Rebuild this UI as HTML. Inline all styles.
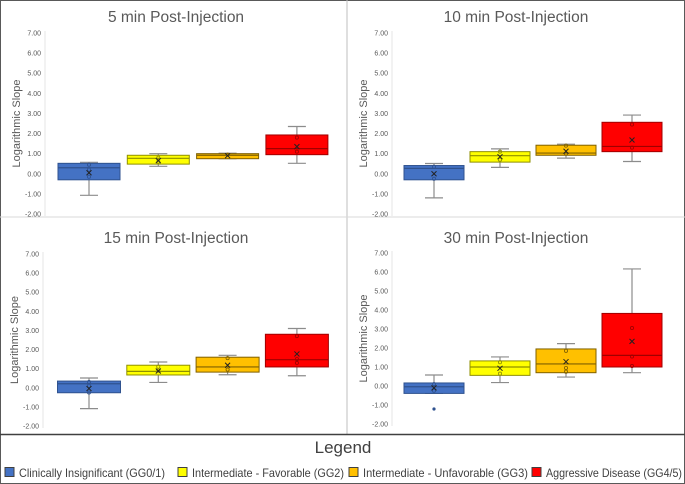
<!DOCTYPE html>
<html><head><meta charset="utf-8"><style>
html,body{margin:0;padding:0;background:#fff;}
svg{display:block;font-family:"Liberation Sans",sans-serif;}
</style></head><body>
<svg id="chart" width="685" height="484" viewBox="0 0 685 484" xmlns="http://www.w3.org/2000/svg">
<rect x="0" y="0" width="685" height="484" fill="#fff"/>
<g id="panels"></g>
<g id="frame">
<rect x="0.5" y="0.5" width="684" height="483" fill="none" stroke="#595959" stroke-width="1"/>
<line x1="347" y1="0" x2="347" y2="434" stroke="#bfbfbf" stroke-width="1"/>
<line x1="0" y1="217" x2="685" y2="217" stroke="#d9d9d9" stroke-width="1"/>
<line x1="0" y1="434.5" x2="685" y2="434.5" stroke="#404040" stroke-width="1.5"/>
</g>
<g id="legend">
<text x="343" y="453" text-anchor="middle" font-size="17" fill="#404040">Legend</text>
</g>
</svg>
<script>
var groupNames = ["Clinically Insignificant (GG0/1)", "Intermediate - Favorable (GG2)", "Intermediate - Unfavorable (GG3)", "Aggressive Disease (GG4/5)"];
var panelTitles = ["5 min Post-Injection", "10 min Post-Injection", "15 min Post-Injection", "30 min Post-Injection"];
var yTicks = [7, 6, 5, 4, 3, 2, 1, 0, -1, -2];
var mins5 = [-1.07, 0.37, 0.75, 0.52], q1s5 = [-0.3, 0.48, 0.75, 0.95], meds5 = [0.3, 0.77, 0.92, 1.25], q3s5 = [0.52, 0.92, 1.0, 1.93], maxs5 = [0.57, 1.0, 1.02, 2.35], means5 = [0.05, 0.65, 0.9, 1.35];
var mins10 = [-1.2, 0.32, 0.78, 0.61], q1s10 = [-0.3, 0.58, 0.92, 1.1], meds10 = [0.27, 0.9, 1.03, 1.36], q3s10 = [0.41, 1.1, 1.42, 2.56], maxs10 = [0.51, 1.24, 1.47, 2.92], means10 = [0.0, 0.85, 1.12, 1.68];
var mins15 = [-1.09, 0.28, 0.68, 0.63], q1s15 = [-0.26, 0.67, 0.82, 1.09], meds15 = [0.21, 0.86, 1.09, 1.47], q3s15 = [0.35, 1.18, 1.6, 2.8], maxs15 = [0.51, 1.35, 1.7, 3.1], means15 = [-0.04, 0.88, 1.18, 1.77];
var mins30 = [-0.39, 0.18, 0.47, 0.7], q1s30 = [-0.39, 0.56, 0.7, 1.0], meds30 = [-0.04, 1.0, 1.16, 1.61], q3s30 = [0.16, 1.32, 1.95, 3.82], maxs30 = [0.58, 1.53, 2.23, 6.16], means30 = [-0.1, 0.93, 1.28, 2.35];
var outliers30 = [-1.21, null, null, null];
var pts5 = [[0.45, -0.15, 0.2], [0.8, 0.6], [0.95], [1.8, 1.1]];
var pts10 = [[0.35, -0.25], [1.1, 0.7], [1.4, 1.0], [2.45, 1.3]];
var pts15 = [[0.3, 0.1, -0.25], [1.1, 0.9], [1.55, 0.95], [2.7, 1.3, 1.5]];
var pts30 = [[0.1, -0.25], [1.25, 0.65], [1.85, 0.95, 0.75], [3.05, 1.55, 1.05]];

var panelData = [
 {mins: mins5, q1: q1s5, med: meds5, q3: q3s5, max: maxs5, mean: means5, pts: pts5, out: [null,null,null,null]},
 {mins: mins10, q1: q1s10, med: meds10, q3: q3s10, max: maxs10, mean: means10, pts: pts10, out: [null,null,null,null]},
 {mins: mins15, q1: q1s15, med: meds15, q3: q3s15, max: maxs15, mean: means15, pts: pts15, out: [null,null,null,null]},
 {mins: mins30, q1: q1s30, med: meds30, q3: q3s30, max: maxs30, mean: means30, pts: pts30, out: outliers30}
];
var layouts = [
 {ax: 45, yTop: 33, yBot: 214, x0: 89, step: 69.3, bw: 62, tx: 176, ty: 22},
 {ax: 392, yTop: 33, yBot: 214, x0: 434, step: 66, bw: 60, tx: 516, ty: 22},
 {ax: 43, yTop: 254, yBot: 426, x0: 89, step: 69.3, bw: 63, tx: 176, ty: 243},
 {ax: 392, yTop: 253, yBot: 424, x0: 434, step: 66, bw: 60, tx: 516, ty: 243}
];
var fills = ["#4472C4", "#FFFF00", "#FFC000", "#FF0000"];
var strokes = ["#2F528F", "#8F8F00", "#7F6000", "#A00000"];
var NS = "http://www.w3.org/2000/svg";
function mk(tag, attrs, parent) {
  var e = document.createElementNS(NS, tag);
  for (var k in attrs) e.setAttribute(k, attrs[k]);
  parent.appendChild(e);
  return e;
}
var root = document.getElementById('panels');
panelData.forEach(function (d, p) {
  var L = layouts[p];
  var yv = function (v) { return L.yTop + (7 - v) * (L.yBot - L.yTop) / 9; };
  var xc = function (i) { return L.x0 + i * L.step; };
  var g = mk('g', {}, root);
  
  
  var t = mk('text', {x: L.tx, y: L.ty, 'text-anchor': 'middle', 'font-size': 15.5, fill: '#595959'}, g);
  t.textContent = panelTitles[p];
  
  
  var yt = mk('text', {x: 0, y: 0, 'text-anchor': 'middle', 'font-size': 11, fill: '#595959', transform: 'translate(' + (L.ax - 25) + ',' + ((L.yTop + L.yBot) / 2) + ') rotate(-90)'}, g);
  yt.textContent = 'Logarithmic Slope';
  
  
  var al = mk('line', {x1: L.ax, y1: L.yTop - 2, x2: L.ax, y2: L.yBot + 2, stroke: '#e6e6e6', 'stroke-width': 1}, g);
  
  
  yTicks.forEach(function (v) {
    var tl = mk('text', {x: L.ax - 4, y: yv(v) + 2.5, 'text-anchor': 'end', 'font-size': 7, fill: '#595959'}, g);
    tl.textContent = v.toFixed(2);
    
    
  });
  for (var i = 0; i < 4; i++) {
    var cx = xc(i), hw = L.bw / 2;
    var bg = mk('g', {}, g);
    
    
    var wc = '#8c8c8c';
    mk('line', {x1: cx, y1: yv(d.max[i]), x2: cx, y2: yv(d.q3[i]), stroke: wc, 'stroke-width': 1.2}, bg);
    mk('line', {x1: cx, y1: yv(d.q1[i]), x2: cx, y2: yv(d.mins[i]), stroke: wc, 'stroke-width': 1.2}, bg);
    mk('line', {x1: cx - 9, y1: yv(d.max[i]), x2: cx + 9, y2: yv(d.max[i]), stroke: wc, 'stroke-width': 1.2}, bg);
    mk('line', {x1: cx - 9, y1: yv(d.mins[i]), x2: cx + 9, y2: yv(d.mins[i]), stroke: wc, 'stroke-width': 1.2}, bg);
    mk('rect', {x: cx - hw, y: yv(d.q3[i]), width: L.bw, height: yv(d.q1[i]) - yv(d.q3[i]), fill: fills[i], stroke: strokes[i], 'stroke-width': 1}, bg);
    mk('line', {x1: cx - hw, y1: yv(d.med[i]), x2: cx + hw, y2: yv(d.med[i]), stroke: strokes[i], 'stroke-width': 1.2}, bg);
    d.pts[i].forEach(function (v) {
      mk('circle', {cx: cx, cy: yv(v), r: 1.6, fill: 'none', stroke: strokes[i], 'stroke-width': 0.8}, bg);
    });
    var my = yv(d.mean[i]);
    mk('path', {d: 'M' + (cx - 2.5) + ' ' + (my - 2.5) + 'L' + (cx + 2.5) + ' ' + (my + 2.5) + 'M' + (cx + 2.5) + ' ' + (my - 2.5) + 'L' + (cx - 2.5) + ' ' + (my + 2.5), stroke: '#222', 'stroke-width': 1}, bg);
    if (d.out[i] !== null) mk('circle', {cx: cx, cy: yv(d.out[i]), r: 1.6, fill: strokes[i]}, bg);
  }
});
var leg = document.getElementById('legend');
var legX = [5, 178, 349, 532];
var legW = [146, 152, 165, 136];
groupNames.forEach(function (n, i) {
  var e = mk('g', {}, leg);
  
  
  mk('rect', {x: legX[i], y: 467.5, width: 9, height: 9, fill: fills[i], stroke: '#404040', 'stroke-width': 1}, e);
  var t = mk('text', {x: legX[i] + 14, y: 477, 'font-size': 12, fill: '#404040', textLength: legW[i], lengthAdjust: 'spacingAndGlyphs'}, e);
  t.textContent = n;
});
</script>
</body></html>
